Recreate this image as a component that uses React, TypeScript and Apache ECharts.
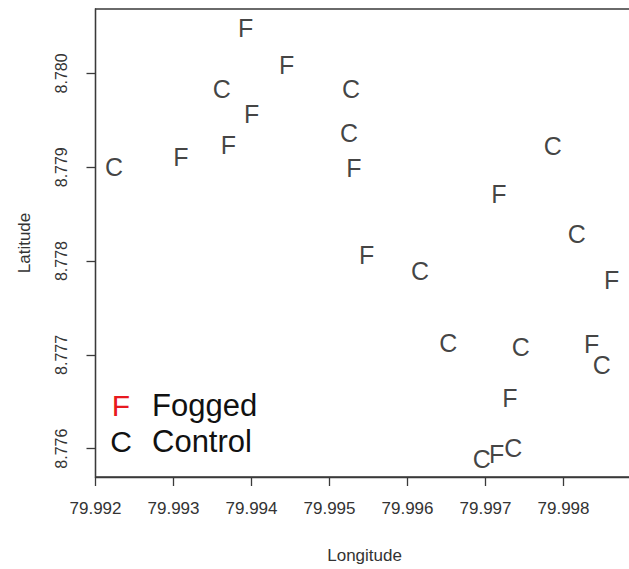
import React, { useEffect, useRef } from "react";
import * as echarts from "echarts";

// Fogged sites (F)
const foggedLon = [
  79.993926, 79.994451, 79.994003, 79.993703, 79.993096, 79.995314,
  79.997173, 79.995477, 79.998618, 79.998362, 79.997314, 79.997144,
];
const foggedLat = [
  8.780482, 8.780093, 8.779563, 8.779234, 8.779104, 8.778987,
  8.778715, 8.778061, 8.777795, 8.777117, 8.776541, 8.77594,
];

// Control sites (C)
const controlLon = [
  79.993618, 79.995276, 79.99525, 79.992237, 79.997862, 79.998169,
  79.99616, 79.996523, 79.997451, 79.99849, 79.996951, 79.997356,
];
const controlLat = [
  8.779836, 8.779836, 8.779369, 8.779008, 8.779227, 8.778291,
  8.777891, 8.777124, 8.777089, 8.776894, 8.775887, 8.776011,
];

const lonTicks = [79.992, 79.993, 79.994, 79.995, 79.996, 79.997, 79.998];
const latTicks = [8.776, 8.777, 8.778, 8.779, 8.78];

const legendItems = [
  { mark: "F", label: "Fogged", color: "#e8191f" },
  { mark: "C", label: "Control", color: "#111111" },
];

const FONT = "'Liberation Sans', Arial, Helvetica, sans-serif";
const AXIS_COLOR = "#3a3a3a";
const TEXT_COLOR = "#333333";

export default function App() {
  const ref = useRef<HTMLDivElement>(null);

  useEffect(() => {
    if (!ref.current) return;
    const chart = echarts.init(ref.current, undefined, { renderer: "svg" });

    const makeSeries = (name: string, mark: string, lon: number[], lat: number[]) => ({
      type: "scatter",
      name,
      data: lon.map((x, i) => [x, lat[i]]),
      symbol: "circle",
      symbolSize: 0.1,
      itemStyle: { color: "rgba(0,0,0,0)" },
      label: {
        show: true,
        position: "inside",
        formatter: mark,
        fontSize: 25,
        fontFamily: FONT,
        color: "#111111",
      },
      labelLayout: { hideOverlap: false },
      emphasis: { disabled: true },
    });

    chart.setOption({
      animation: false,
      backgroundColor: "#ffffff",
      grid: {
        show: true,
        left: 95.5,
        top: 9,
        right: 26.3,
        bottom: 89.5,
        borderColor: AXIS_COLOR,
        borderWidth: 1.3,
        backgroundColor: "transparent",
      },
      xAxis: {
        type: "value",
        min: 79.992,
        max: 79.9989,
        name: "Longitude",
        nameLocation: "middle",
        nameGap: 70,
        nameTextStyle: { fontSize: 17, fontFamily: FONT, color: TEXT_COLOR },
        axisLine: { show: true, lineStyle: { color: AXIS_COLOR, width: 1.3 } },
        axisTick: {
          show: true,
          customValues: lonTicks,
          length: 9,
          lineStyle: { color: AXIS_COLOR, width: 1.3 },
        },
        axisLabel: {
          customValues: lonTicks,
          formatter: (v: number) => v.toFixed(3),
          fontSize: 17,
          fontFamily: FONT,
          color: TEXT_COLOR,
          margin: 23,
        },
        splitLine: { show: false },
      },
      yAxis: {
        type: "value",
        min: 8.775698,
        max: 8.780687,
        name: "Latitude",
        nameLocation: "middle",
        nameGap: 63,
        nameRotate: 90,
        nameTextStyle: { fontSize: 17, fontFamily: FONT, color: TEXT_COLOR },
        axisLine: { show: true, lineStyle: { color: AXIS_COLOR, width: 1.3 } },
        axisTick: {
          show: true,
          customValues: latTicks,
          length: 9,
          lineStyle: { color: AXIS_COLOR, width: 1.3 },
        },
        axisLabel: {
          customValues: latTicks,
          formatter: (v: number) => v.toFixed(3),
          rotate: 90,
          fontSize: 16,
          fontFamily: FONT,
          color: TEXT_COLOR,
          margin: 26,
        },
        splitLine: { show: false },
      },
      graphic: legendItems.flatMap((it, i) => [
        {
          type: "text",
          x: 121,
          y: 405 + i * 36,
          style: {
            text: it.mark,
            fontSize: 30,
            fontFamily: FONT,
            fill: it.color,
            align: "center",
            verticalAlign: "middle",
          },
        },
        {
          type: "text",
          x: 152,
          y: 405 + i * 36,
          style: {
            text: it.label,
            fontSize: 31,
            fontFamily: FONT,
            fill: "#111111",
            align: "left",
            verticalAlign: "middle",
          },
        },
      ]),
      series: [
        makeSeries("Fogged", "F", foggedLon, foggedLat),
        makeSeries("Control", "C", controlLon, controlLat),
      ],
    });

    return () => chart.dispose();
  }, []);

  return (
    <div
      style={{
        position: "fixed",
        left: 0,
        top: 0,
        width: 629,
        height: 569,
        overflow: "hidden",
        background: "#fff",
      }}
    >
      <div ref={ref} style={{ width: 660, height: 569 }} />
    </div>
  );
}
